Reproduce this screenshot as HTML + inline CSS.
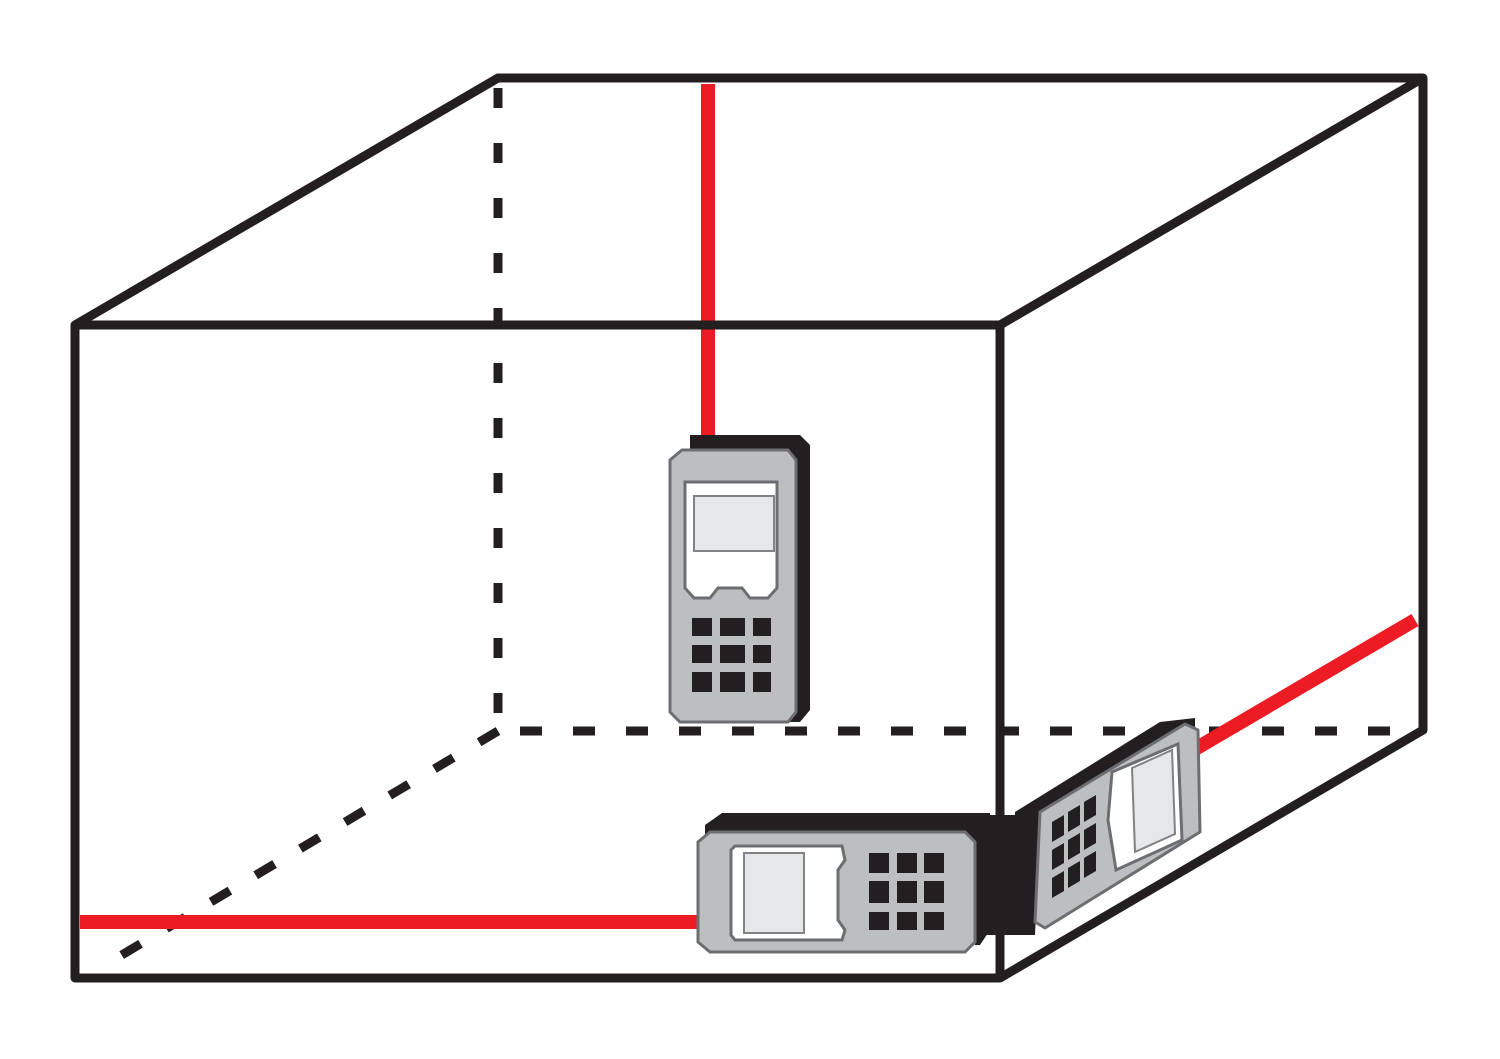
<!DOCTYPE html>
<html><head><meta charset="utf-8"><style>html,body{margin:0;padding:0;background:#fff}svg{display:block}</style></head>
<body>
<svg width="1500" height="1059" viewBox="0 0 1500 1059" xmlns="http://www.w3.org/2000/svg">
<rect width="1500" height="1059" fill="#fff"/>
<g stroke="#231f20" stroke-width="9" fill="none">
  <line x1="498" y1="88" x2="498" y2="730" stroke-dasharray="20 35"/>
  <line x1="520" y1="731" x2="1420" y2="731" stroke-dasharray="22 31"/>
  <line x1="498" y1="731" x2="110" y2="962" stroke-dasharray="22 30"/>
</g>
<g stroke="#ed1c24" stroke-width="14" fill="none">
  <line x1="708" y1="84" x2="708" y2="440"/>
  <line x1="80" y1="922" x2="700" y2="922"/>
  <line x1="1190" y1="752" x2="1415" y2="620"/>
</g>
<g stroke="#231f20" stroke-width="9" fill="none" stroke-linejoin="round">
  <polyline points="75,325 498,78 1423,78 1423,730 1000,978"/>
  <rect x="75" y="325" width="925" height="653"/>
  <line x1="1000" y1="325" x2="1423" y2="78"/>
</g>
<!-- vertical device -->
<g>
  <path d="M690 435 H800 L810 445 V710 L800 722 H690 Z" fill="#231f20"/>
  <path d="M682 450 H788 L796 460 V712 L788 722 H680 L670 712 V460 Z" fill="#bcbec0" stroke="#6d6e71" stroke-width="3"/>
  <path d="M685 482 H777 V588 L768 598 L750 598 L742 588 H718 L710 598 L694 598 L685 588 Z" fill="#fff" stroke="#6d6e71" stroke-width="3"/>
  <rect x="694" y="496" width="80" height="55" fill="#e6e7e8" stroke="#808285" stroke-width="2"/>
  <g fill="#231f20">
    <rect x="692" y="618" width="20" height="18"/><rect x="720" y="618" width="25" height="18"/><rect x="753" y="618" width="18" height="18"/>
    <rect x="692" y="645" width="20" height="18"/><rect x="720" y="645" width="25" height="18"/><rect x="753" y="645" width="18" height="18"/>
    <rect x="692" y="672" width="20" height="20"/><rect x="720" y="672" width="25" height="20"/><rect x="753" y="672" width="18" height="20"/>
  </g>
</g>
<!-- bottom device -->
<g>
  <path d="M705 825 L722 813 H990 V930 L980 945 H975 V840 H705 Z" fill="#231f20"/>
  <rect x="975" y="815" width="60" height="120" fill="#231f20"/>
  <path d="M710 832 H965 L975 842 V942 L965 952 H710 L698 942 V842 Z" fill="#bcbec0" stroke="#6d6e71" stroke-width="3"/>
  <path d="M735 846 H842 L845 860 L838 870 V920 L845 930 L842 940 H735 L731 935 V850 Z" fill="#fff" stroke="#6d6e71" stroke-width="3"/>
  <rect x="744" y="853" width="60" height="80" fill="#e6e7e8" stroke="#808285" stroke-width="2"/>
  <g fill="#231f20">
    <rect x="869" y="853" width="20" height="20"/><rect x="897" y="853" width="20" height="20"/><rect x="924" y="853" width="20" height="20"/>
    <rect x="869" y="881" width="20" height="22"/><rect x="897" y="881" width="20" height="22"/><rect x="924" y="881" width="20" height="22"/>
    <rect x="869" y="912" width="20" height="18"/><rect x="897" y="912" width="20" height="18"/><rect x="924" y="912" width="20" height="18"/>
  </g>
</g>
<!-- right device -->
<g>
  <polygon points="1015,812 1160,722 1195,718 1195,740 1040,830 1035,935 1015,935" fill="#231f20"/>
  <polygon points="1040,812 1185,724 1198,730 1200,832 1045,928 1035,922" fill="#bcbec0" stroke="#6d6e71" stroke-width="3" stroke-linejoin="round"/>
  <polygon points="1112,772 1178,744 1182,840 1116,870 1108,820" fill="#fff" stroke="#6d6e71" stroke-width="3"/>
  <polygon points="1132,768 1172,750 1175,834 1135,852" fill="#e6e7e8" stroke="#808285" stroke-width="2"/>
  <g fill="#231f20">
    <polygon points="1052,822 1064,815 1064,835 1052,842"/><polygon points="1068,812 1080,805 1080,825 1068,832"/><polygon points="1084,802 1096,795 1096,815 1084,822"/>
    <polygon points="1052,850 1064,843 1064,863 1052,870"/><polygon points="1068,840 1080,833 1080,853 1068,860"/><polygon points="1084,830 1096,823 1096,843 1084,850"/>
    <polygon points="1052,878 1064,871 1064,891 1052,898"/><polygon points="1068,868 1080,861 1080,881 1068,888"/><polygon points="1084,858 1096,851 1096,871 1084,878"/>
  </g>
</g>
</svg>
</body></html>
